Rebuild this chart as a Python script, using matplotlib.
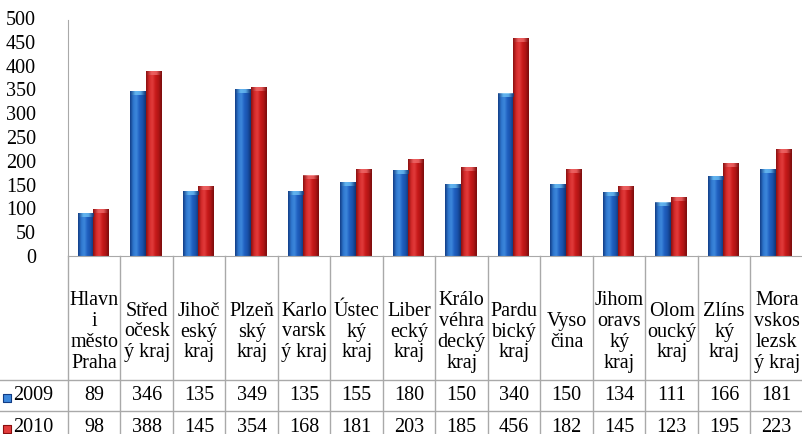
import matplotlib.pyplot as plt
import numpy as np
from matplotlib.colors import LinearSegmentedColormap

plt.rcParams["font.family"] = ["Liberation Serif", "DejaVu Serif"]

regions = [
    "Hlavn\ni\nměsto\nPraha", "Střed\nočesk\ný kraj", "Jihoč\neský\nkraj", "Plzeň\nský\nkraj",
    "Karlo\nvarsk\ný kraj", "Ústec\nký\nkraj", "Liber\necký\nkraj", "Králo\nvéhra\ndecký\nkraj",
    "Pardu\nbický\nkraj", "Vyso\nčina", "Jihom\noravs\nký\nkraj", "Olom\noucký\nkraj",
    "Zlíns\nký\nkraj", "Mora\nvskos\nlezsk\ný kraj",
]
years = ["2009", "2010"]
v2009 = [89, 346, 135, 349, 135, 155, 180, 150, 340, 150, 134, 111, 166, 181]
v2010 = [98, 388, 145, 354, 168, 181, 203, 185, 456, 182, 145, 123, 195, 223]
yticks = [0, 50, 100, 150, 200, 250, 300, 350, 400, 450, 500]

BLUE = ["#123d85", "#2f77cf", "#3d88dc", "#1f5fc0", "#1a52aa", "#0f3575"]
RED = ["#8a0f0f", "#d42a2a", "#e23c3c", "#c81a1a", "#b01515", "#7a0c0c"]
CAP = {"2009": "#6cc0f5", "2010": "#f06a6a"}
GRID = "#a9a9a9"
FS = 14.5

W, H = 803, 434
fig = plt.figure(figsize=(W / 100, H / 100), dpi=100)
left, right = 68 / W, 1.0
zero_y, top_y = 256, 18
ax = fig.add_axes([left, (H - zero_y) / H, right - left, (zero_y - top_y) / H])


def grad_bar(ax, x0, width, height, colors, cap):
    cmap = LinearSegmentedColormap.from_list("g", colors)
    img = np.linspace(0, 1, 40).reshape(1, -1)
    ax.imshow(img, cmap=cmap, extent=(x0, x0 + width, 0, height), aspect="auto", interpolation="bicubic", zorder=2)
    capc = LinearSegmentedColormap.from_list("c", [colors[0], cap, cap, colors[-1]])
    ax.imshow(img, cmap=capc, extent=(x0, x0 + width, height - 7, height), aspect="auto",
              interpolation="bicubic", zorder=3, alpha=0.8)


bw = 0.29
n = len(regions)
for i in range(n):
    c = i + 0.48
    grad_bar(ax, c - bw, bw, v2009[i], BLUE, CAP["2009"])
    grad_bar(ax, c, bw, v2010[i], RED, CAP["2010"])

ax.set_xlim(0, n)
ax.set_ylim(0, 500)
ax.set_yticks(yticks)
ax.set_yticklabels([str(t) for t in yticks], fontsize=FS)
ax.tick_params(axis="y", length=0, pad=23)
ax.set_xticks([])
for s in ["top", "right"]:
    ax.spines[s].set_visible(False)
ax.spines["left"].set_color(GRID)
ax.spines["bottom"].set_color(GRID)
ax.spines["left"].set_bounds(0, 495)

# data table below the chart, y in pixels below the zero line
th = H - zero_y
tab = fig.add_axes([left, 0, right - left, th / H])
tab.set_xlim(0, n)
tab.set_ylim(th, 0)
tab.axis("off")
row1, row2, row3 = 124, 155, 187
cw = (W - 68) / n
for b in range(n + 1):
    tab.plot([b, b], [0, th], color=GRID, lw=1, clip_on=False)
for yy in [row1, row2]:
    tab.plot([-68 / cw, n], [yy, yy], color=GRID, lw=1, clip_on=False)
for i, lab in enumerate(regions):
    tab.text(i + 0.5, 76, lab, ha="center", va="center", fontsize=FS, linespacing=1.12)
    tab.text(i + 0.5, (row1 + row2) / 2, str(v2009[i]), ha="center", va="center", fontsize=FS)
    tab.text(i + 0.5, (row2 + row3) / 2, str(v2010[i]), ha="center", va="center", fontsize=FS)

for yr, yy, cols in [(years[0], (row1 + row2) / 2, BLUE), (years[1], (row2 + row3) / 2, RED)]:
    tab.text(-55 / cw, yy, yr, ha="left", va="center", fontsize=FS, clip_on=False)
    tab.scatter([-61 / cw], [yy + 2], marker="s", s=40, color=cols[2], edgecolor=cols[0], lw=0.8, clip_on=False)

fig.savefig("out.png", dpi=100)
